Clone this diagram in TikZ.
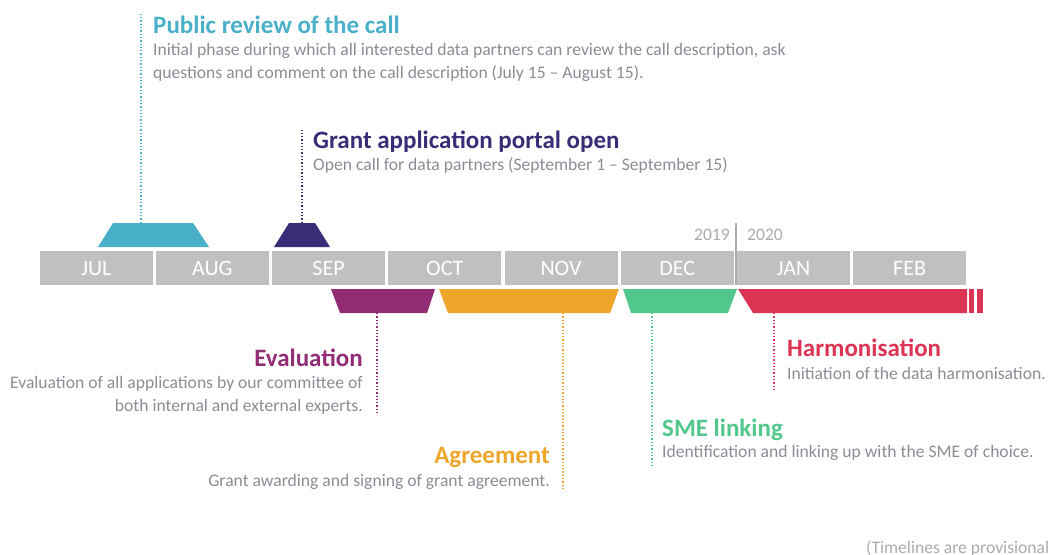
\documentclass[tikz,border=0pt]{standalone}
\usepackage{fontspec}
\setmainfont{Carlito}
\definecolor{boxgray}{HTML}{C0C0C0}
\definecolor{txtgray}{HTML}{8A8D94}
\definecolor{yrgray}{HTML}{ABABAB}
\definecolor{reviewc}{HTML}{49B0C9}
\definecolor{portalc}{HTML}{3A2D78}
\definecolor{evalc}{HTML}{922C75}
\definecolor{agreec}{HTML}{EDA52A}
\definecolor{smec}{HTML}{52C78C}
\definecolor{harmc}{HTML}{DC3454}
\tikzset{
  month/.style={fill=boxgray, text=white, minimum width=113pt, minimum height=34pt,
    inner sep=0pt, anchor=north west, font=\fontsize{22}{24}\selectfont},
  phasetitle/.style={inner sep=0pt, font=\bfseries\fontsize{25}{28}\selectfont},
  phasetext/.style={inner sep=0pt, text=txtgray, font=\fontsize{17.6}{22.5}\selectfont},
  lead/.style={dotted, line width=1.3pt},
}
\begin{document}
\begin{tikzpicture}[x=1pt, y=-1pt]
  \useasboundingbox (0,0) rectangle (1051,554);

  % months
  \foreach \m [count=\i from 0] in {JUL,AUG,SEP,OCT,NOV,DEC,JAN,FEB}
    \node[month] (m\i) at ({39.5+116.2*\i},251) {\m};

  % year change
  \draw[yrgray, line width=1.5pt] (736,223) -- (736,285);
  \node[phasetext, text=yrgray, anchor=base east] (y19) at (730,240) {2019};
  \node[phasetext, text=yrgray, anchor=base west] (y20) at (747,240) {2020};

  % phases above the line
  \fill[reviewc] (98,247) -- (113,223) -- (193,223) -- (209,247) -- cycle;
  \fill[portalc] (274,247) -- (289,223) -- (315,223) -- (330,247) -- cycle;

  % phases below the line
  \fill[evalc] (331,289) -- (435,289) -- (427,313) -- (340,313) -- cycle;
  \fill[agreec] (439,289) -- (619,289) -- (610,313) -- (448,313) -- cycle;
  \fill[smec] (623,289) -- (737,289) -- (728,313) -- (631,313) -- cycle;
  \fill[harmc] (738,289) -- (967,289) -- (967,313) -- (753,313) -- cycle;
  \fill[harmc] (969,289) rectangle (974,313);
  \fill[harmc] (977,289) rectangle (983,313);

  \coordinate (review) at (141,223);
  \coordinate (portal) at (302,223);
  \coordinate (eval) at (377,313);
  \coordinate (agree) at (563,313);
  \coordinate (sme) at (652,313);
  \coordinate (harm) at (774,313);

  % labels
  \node[phasetitle, text=reviewc, anchor=base west] (reviewt) at (153,33) {Public review of the call};
  \node[phasetext, anchor=base west, align=left] (reviewd) at (153,78)
    {Initial phase during which all interested data partners can review the call description, ask\\
     questions and comment on the call description (July 15 -- August 15).};
  \coordinate (reviewend) at (141,12);

  \node[phasetitle, text=portalc, anchor=base west] (portalt) at (313,148) {Grant application portal open};
  \node[phasetext, anchor=base west] (portald) at (313,170)
    {Open call for data partners (September 1 -- September 15)};
  \coordinate (portalend) at (302,130);

  \node[phasetitle, text=evalc, anchor=base east] (evalt) at (363,366) {Evaluation};
  \node[phasetext, anchor=base east, align=right] (evald) at (363,411)
    {Evaluation of all applications by our committee of\\ both internal and external experts.};
  \coordinate (evalend) at (377,415);

  \node[phasetitle, text=agreec, anchor=base east] (agreet) at (550,463) {Agreement};
  \node[phasetext, anchor=base east] (agreed) at (550,486)
    {Grant awarding and signing of grant agreement.};
  \coordinate (agreeend) at (563,490);

  \node[phasetitle, text=smec, anchor=base west] (smet) at (662,436) {SME linking};
  \node[phasetext, anchor=base west] (smed) at (662,457)
    {Identification and linking up with the SME of choice.};
  \coordinate (smeend) at (652,467);

  \node[phasetitle, text=harmc, anchor=base west] (harmt) at (787,356) {Harmonisation};
  \node[phasetext, anchor=base west] (harmd) at (787,379)
    {Initiation of the data harmonisation.};
  \coordinate (harmend) at (774,390);

  % leaders
  \draw[lead, reviewc] (review) -- (reviewend);
  \draw[lead, portalc] (portal) -- (portalend);
  \draw[lead, evalc] (eval) -- (evalend);
  \draw[lead, agreec] (agree) -- (agreeend);
  \draw[lead, smec] (sme) -- (smeend);
  \draw[lead, harmc] (harm) -- (harmend);

  \node[phasetext, text=yrgray, anchor=base west] (note) at (866,553) {(Timelines are provisional};
\end{tikzpicture}
\end{document}
